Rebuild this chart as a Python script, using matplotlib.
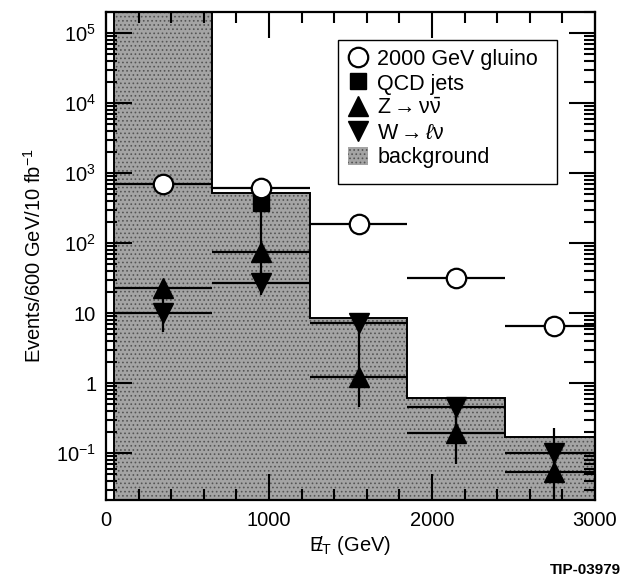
import numpy as np
import matplotlib
matplotlib.use("Agg")
import matplotlib.pyplot as plt
from matplotlib.lines import Line2D
from matplotlib.patches import Patch, Rectangle
from matplotlib.ticker import MultipleLocator, FixedLocator, NullFormatter

plt.rcParams["font.family"] = ["Liberation Sans", "DejaVu Sans"]
plt.rcParams["mathtext.fontset"] = "custom"
plt.rcParams["mathtext.rm"] = "Liberation Sans"
plt.rcParams["mathtext.it"] = "Liberation Sans:italic"
plt.rcParams["mathtext.bf"] = "Liberation Sans:bold"
plt.rcParams["hatch.linewidth"] = 0.7

# Missing-ET bins (GeV), 600 GeV wide
bin_edges = [50, 650, 1250, 1850, 2450, 3050]
bin_centers = [350, 950, 1550, 2150, 2750]

# Events / 600 GeV / 10 fb^-1
background = [1.0e6, 520, 8.5, 0.61, 0.17]
gluino = [700, 610, 190, 32, 6.5]
qcd_jets = [np.nan, 370, np.nan, np.nan, np.nan]
qcd_low = [np.nan, 90, np.nan, np.nan, np.nan]
qcd_high = [np.nan, 370, np.nan, np.nan, np.nan]
z_nunu = [23, 75, 1.2, 0.19, 0.053]
z_low = [12, 35, 0.45, 0.07, 0.022]
z_high = [23, 75, 3.5, 0.33, 0.07]
w_lnu = [10, 27, 7.2, 0.45, 0.10]
w_low = [5.3, 18, 3.0, 0.27, 0.065]
w_high = [14, 40, 7.2, 0.45, 0.23]

x_ticks = [0, 1000, 2000, 3000]
y_decades = [-1, 0, 1, 2, 3, 4, 5]

fig = plt.figure(figsize=(6.23, 5.78), dpi=100)
ax = fig.add_axes([0.170, 0.135, 0.785, 0.844])
ax.set_yscale("log")

GREY = "#a4a4a4"
HATCH_C = "#555555"

# shaded total background histogram
ax.stairs(background, bin_edges, baseline=1e-3, fill=True, facecolor=GREY,
          edgecolor=HATCH_C, hatch="....", linewidth=0, zorder=1)
ax.stairs(background, bin_edges, baseline=1e-3, color="black",
          linewidth=1.4, zorder=2)


def yerr(vals, lo, hi):
    v = np.asarray(vals, float)
    return np.vstack([v - np.asarray(lo, float), np.asarray(hi, float) - v])


ebkw = dict(ecolor="black", elinewidth=1.6, capsize=0, linestyle="none", zorder=4)

ax.errorbar(bin_centers, z_nunu, yerr=yerr(z_nunu, z_low, z_high), xerr=300,
            marker="^", ms=14, mfc="black", mec="black", **ebkw)
ax.errorbar(bin_centers, w_lnu, yerr=yerr(w_lnu, w_low, w_high), xerr=300,
            marker="v", ms=14, mfc="black", mec="black", **ebkw)
ax.errorbar(bin_centers, qcd_jets, yerr=yerr(qcd_jets, qcd_low, qcd_high),
            marker="s", ms=11, mfc="black", mec="black", **ebkw)
ax.errorbar(bin_centers, gluino, xerr=300, marker="o", ms=14, mfc="white",
            mec="black", mew=1.6, **ebkw)

ax.set_xlim(0, 3000)
ax.set_ylim(0.0213, 2.0e5)

ax.xaxis.set_major_locator(FixedLocator(x_ticks))
ax.xaxis.set_minor_locator(MultipleLocator(200))

major_y = [10.0 ** e for e in y_decades]
minor_y = [m * 10.0 ** e for e in [-2] + y_decades for m in range(2, 10)]
minor_y = [v for v in minor_y if 0.0213 <= v <= 2.0e5]
ax.yaxis.set_major_locator(FixedLocator(major_y))
ax.yaxis.set_minor_locator(FixedLocator(minor_y))
ax.yaxis.set_minor_formatter(NullFormatter())


def decade_label(v, pos):
    e = int(round(np.log10(v)))
    if e == 0:
        return "1"
    if e == 1:
        return "10"
    return r"$\mathregular{10^{%d}}$" % e


ax.yaxis.set_major_formatter(plt.FuncFormatter(decade_label))

ax.tick_params(which="both", direction="in", top=True, right=True,
               width=1.5, labelsize=14.5)
ax.tick_params(which="major", length=19)
ax.tick_params(which="minor", length=8)
ax.tick_params(axis="x", which="major", pad=8)
ax.tick_params(axis="y", which="major", pad=7)
for s in ax.spines.values():
    s.set_linewidth(1.6)

# slashed E_T: slash drawn, then backed up so the E sits over it
ax.set_xlabel(r"$\mathregular{/\!\!\!\!\!E}_\mathregular{T}$ (GeV)", fontsize=14.5, labelpad=3)
ax.set_ylabel(r"Events/600 GeV/10 fb$^{\mathregular{-1}}$", fontsize=14.5, labelpad=8)

handles = [
    Line2D([], [], marker="o", ls="none", ms=14, mfc="white", mec="black", mew=1.6),
    Line2D([], [], marker="s", ls="none", ms=12, mfc="black", mec="black"),
    Line2D([], [], marker="^", ls="none", ms=14, mfc="black", mec="black"),
    Line2D([], [], marker="v", ls="none", ms=14, mfc="black", mec="black"),
    Patch(facecolor=GREY, edgecolor=HATCH_C, hatch="....", linewidth=0),
]
labels = [
    "2000 GeV gluino",
    "QCD jets",
    r"Z$\rightarrow\mathregular{\nu\bar{\nu}}$",
    r"W$\rightarrow\ell\mathregular{\nu}$",
    "background",
]
# legend box drawn separately so its size can be set directly
ax.add_patch(Rectangle((0.474, 0.648), 0.448, 0.295, transform=ax.transAxes,
                       facecolor="white", edgecolor="black", linewidth=1.0,
                       zorder=5))
leg = ax.legend(handles, labels, loc="upper left", bbox_to_anchor=(0.478, 0.943),
                fontsize=15.5, frameon=False, handlelength=0.9, handleheight=0.9,
                handletextpad=0.45, labelspacing=0.15, borderpad=0.4,
                borderaxespad=0)
leg.set_zorder(6)

fig.text(0.996, 0.001, "TIP-03979", ha="right", va="bottom", fontsize=11,
         fontweight="bold")

fig.savefig("out.png", dpi=100)
